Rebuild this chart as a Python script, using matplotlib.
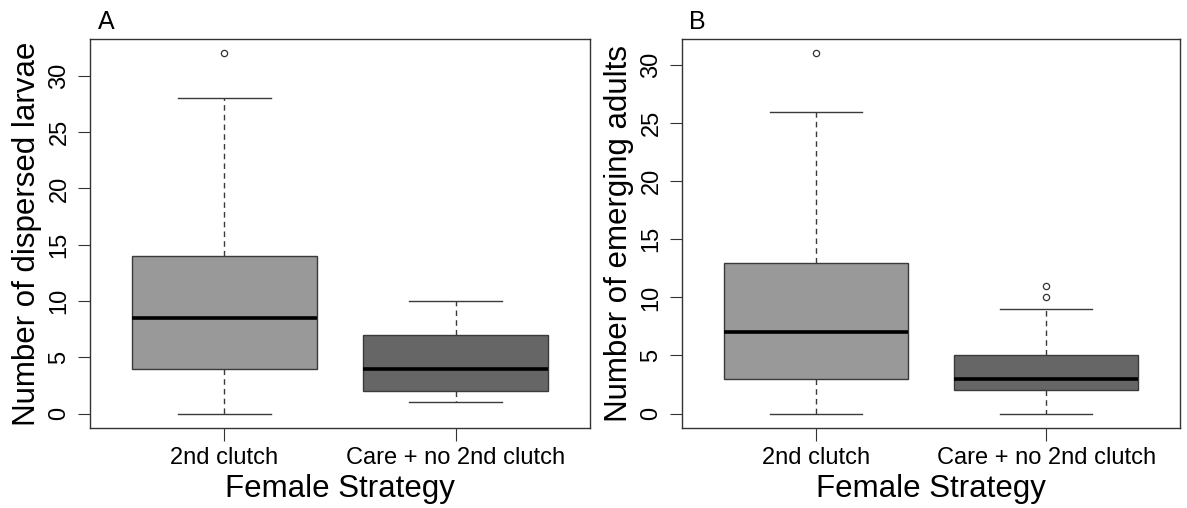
import matplotlib.pyplot as plt

plt.rcParams['font.family'] = ['Liberation Sans', 'DejaVu Sans']

groups = ["2nd clutch", "Care + no 2nd clutch"]
box_colors = ["#999999", "#666666"]

# five-number summaries: whislo, q1, med, q3, whishi
larvae_stats = [(0, 4, 8.5, 14, 28), (1, 2, 4, 7, 10)]
larvae_fliers = [[32], []]
adults_stats = [(0, 3, 7, 13, 26), (0, 2, 3, 5, 9)]
adults_fliers = [[31], [10, 11]]


def make_stats(summ, fliers):
    out = []
    for (lo, q1, med, q3, hi), fl in zip(summ, fliers):
        out.append(dict(whislo=lo, q1=q1, med=med, q3=q3, whishi=hi, fliers=fl))
    return out


def draw_panel(ax, summ, fliers, ylabel, letter, ymax):
    bp = ax.bxp(make_stats(summ, fliers), positions=[1, 2], widths=0.8,
                patch_artist=True, showfliers=True,
                boxprops=dict(edgecolor="#3a3a3a", linewidth=1.0),
                medianprops=dict(color="black", linewidth=2.6),
                whiskerprops=dict(color="#3a3a3a", linewidth=1.0, linestyle=(0, (4, 3))),
                capprops=dict(color="#3a3a3a", linewidth=1.0),
                flierprops=dict(marker="o", markersize=4.5, markerfacecolor="white",
                                markeredgecolor="#333333", markeredgewidth=0.9))
    for patch, c in zip(bp["boxes"], box_colors):
        patch.set_facecolor(c)
    # R style caps are half the box width
    for cap in bp["caps"]:
        x = cap.get_xdata()
        mid = (x[0] + x[1]) / 2
        cap.set_xdata([mid - 0.2, mid + 0.2])
    pad = ymax * 0.04
    ax.set_ylim(-pad, ymax + pad)
    ax.set_xlim(0.42, 2.58)
    ax.set_yticks([0, 5, 10, 15, 20, 25, 30])
    ax.set_xticks([1, 2])
    ax.set_xticklabels(groups)
    ax.tick_params(axis="y", labelsize=17, labelrotation=90, length=9, color="#333333", pad=5)
    ax.tick_params(axis="x", labelsize=17, length=9, color="#333333", pad=5)
    for lab in ax.get_yticklabels():
        lab.set_va("center")
    for sp in ax.spines.values():
        sp.set_color("#333333")
        sp.set_linewidth(1.0)
    ax.set_ylabel(ylabel, fontsize=22.5, labelpad=5)
    ax.set_xlabel("Female Strategy", fontsize=22.5, labelpad=3)
    ax.text(0.015, 1.012, letter, transform=ax.transAxes, fontsize=18, ha="left", va="bottom")


fig = plt.figure(figsize=(11.87, 5.08), dpi=100)
ax1 = fig.add_axes([90 / 1187, 80 / 508, 500 / 1187, 389 / 508])
ax2 = fig.add_axes([682 / 1187, 80 / 508, 498 / 1187, 389 / 508])

draw_panel(ax1, larvae_stats, larvae_fliers, "Number of dispersed larvae", "A", 32)
draw_panel(ax2, adults_stats, adults_fliers, "Number of emerging adults", "B", 31)

fig.savefig("out.png", dpi=100)
